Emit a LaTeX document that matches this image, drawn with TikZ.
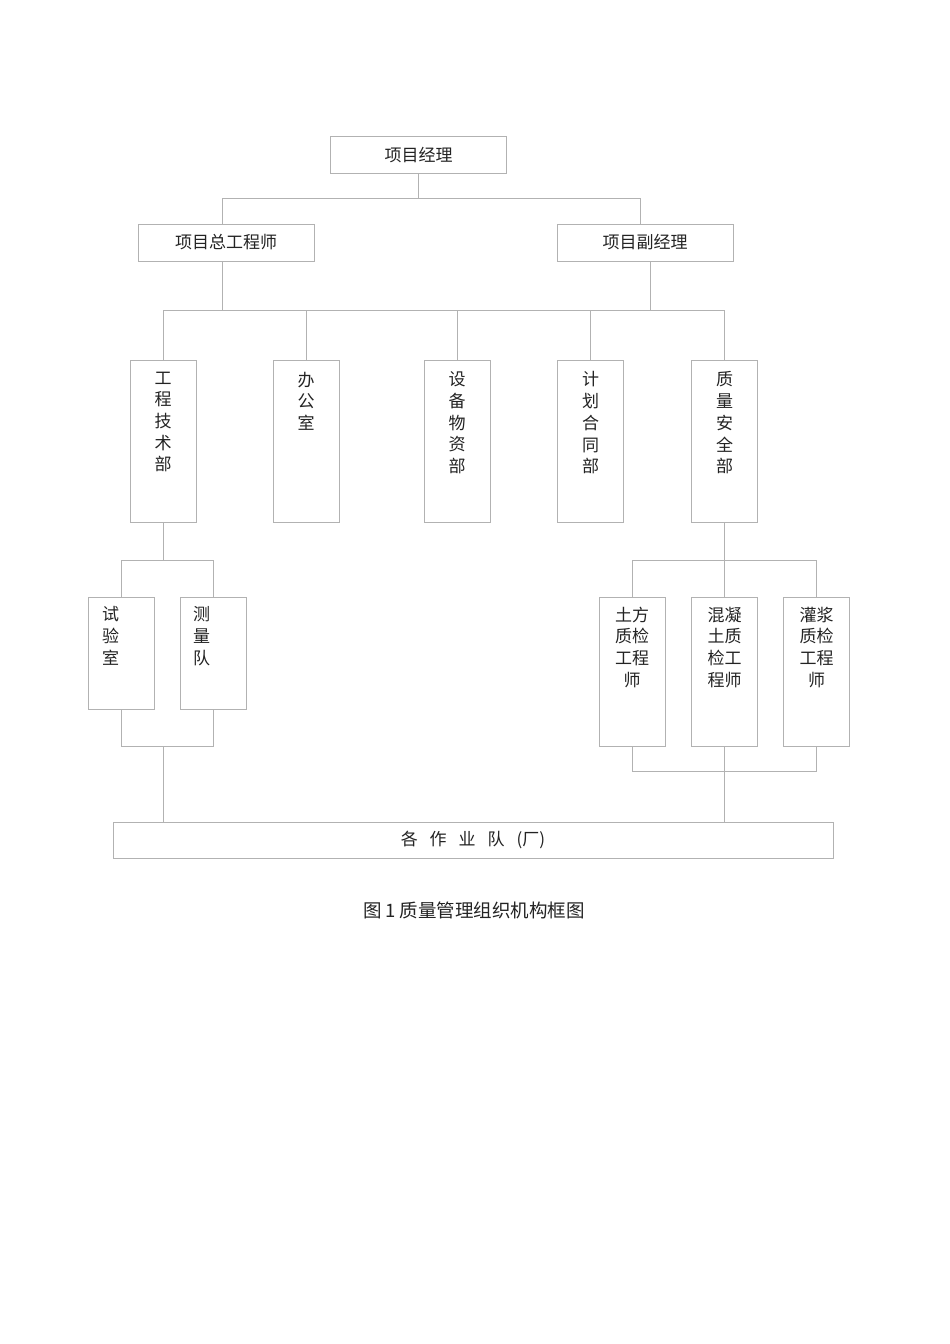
\documentclass[tikz,border=0pt]{standalone}
\usepackage{fontspec}
\setmainfont{Noto Sans CJK SC}
\usepackage{tikz}
\usetikzlibrary{positioning}
\definecolor{linegray}{RGB}{178,178,178}
\definecolor{inkgray}{RGB}{35,35,35}
\newcommand{\boxfont}{\fontsize{17}{21.7}\selectfont}
\tikzstyle{box} = [draw=linegray, line width=0.9pt, inner sep=0pt, font=\boxfont, text=inkgray]
\tikzstyle{wide} = [box, minimum width=176pt, minimum height=37pt]
\tikzstyle{col} = [box, minimum width=66pt]
\tikzstyle{vtext} = [label={[anchor=north, yshift=-12pt, align=center, inner sep=0pt, font=\boxfont, text=inkgray]north:#1}]
\tikzstyle{link} = [draw=linegray, line width=0.9pt]

\begin{document}
\begin{tikzpicture}[x=1pt,y=-1pt]
  \useasboundingbox[fill=white] (0,0) rectangle (950,1344);
  \node[wide](pm) at (418.5,155){项目经理};
  \node[wide](chief) at (226,242.5){项目总工程师};
  \node[wide](dpm) at (645,242.5){项目副经理};
  \node[col,minimum height=162pt,vtext={工\\程\\技\\术\\部}](d1) at (163,441){};
  \node[col,minimum height=162pt,vtext={办\\公\\室}](d2) at (306,441){};
  \node[col,minimum height=162pt,vtext={设\\备\\物\\资\\部}](d3) at (457,441){};
  \node[col,minimum height=162pt,vtext={计\\划\\合\\同\\部}](d4) at (590.5,441){};
  \node[col,minimum height=162pt,vtext={质\\量\\安\\全\\部}](d5) at (724.5,441){};
  \node[col,minimum height=112pt,label={[anchor=north, xshift=-11pt, yshift=-10pt, align=center, inner sep=0pt, font=\boxfont, text=inkgray]north:试\\验\\室}](lab) at (121.5,653){};
  \node[col,minimum height=112pt,label={[anchor=north, xshift=-12pt, yshift=-10pt, align=center, inner sep=0pt, font=\boxfont, text=inkgray]north:测\\量\\队}](survey) at (213.5,653){};
  \node[col,minimum height=149pt,label={[anchor=north, yshift=-10pt, align=center, inner sep=0pt, font=\boxfont, text=inkgray]north:土方\\质检\\工程\\师}](q1) at (632,671.5){};
  \node[col,minimum height=149pt,label={[anchor=north, yshift=-10pt, align=center, inner sep=0pt, font=\boxfont, text=inkgray]north:混凝\\土质\\检工\\程师}](q2) at (724.5,671.5){};
  \node[col,minimum height=149pt,label={[anchor=north, yshift=-10pt, align=center, inner sep=0pt, font=\boxfont, text=inkgray]north:灌浆\\质检\\工程\\师}](q3) at (816.5,671.5){};
  \node[box,minimum width=720pt,minimum height=36pt](teams) at (473,840){各\hspace{12pt}作\hspace{12pt}业\hspace{12pt}队\hspace{12pt}(厂)};
  \node[font=\fontsize{18.5}{20}\selectfont, text=inkgray](cap) at (474,910){图\hspace{4pt}1\hspace{4pt}质量管理组织机构框图};
  \coordinate (bus1) at (0,198);
  \coordinate (bus2) at (0,310);
  \coordinate (bus3) at (0,560);
  \coordinate (bus4) at (0,746);
  \coordinate (bus5) at (0,771);
  \draw[link](pm.south)--(pm.south |- bus1);
  \draw[link]([xshift=-4pt]chief.north) |- ([xshift=-5pt]dpm.north |- bus1) -- ([xshift=-5pt]dpm.north);
  \draw[link]([xshift=-4pt]chief.south)--([xshift=-4pt]chief.south |- bus2);
  \draw[link]([xshift=5pt]dpm.south)--([xshift=5pt]dpm.south |- bus2);
  \draw[link](d1.north) |- (d5.north |- bus2) -- (d5.north);
  \foreach \d in {d2,d3,d4}
    \draw[link](\d.north)--(\d.north |- bus2);
  \draw[link](d1.south)--(d1.south |- bus3);
  \draw[link](lab.north) |- (survey.north |- bus3) -- (survey.north);
  \draw[link](lab.south) |- (survey.south |- bus4) -- (survey.south);
  \draw[link](d1.south |- bus4)--(d1.south |- teams.north);
  \draw[link](d5.south)--(q2.north);
  \draw[link](q1.north) |- (q3.north |- bus3) -- (q3.north);
  \draw[link](q1.south) |- (q3.south |- bus5) -- (q3.south);
  \draw[link](q2.south)--(q2.south |- teams.north);
\end{tikzpicture}
\end{document}
